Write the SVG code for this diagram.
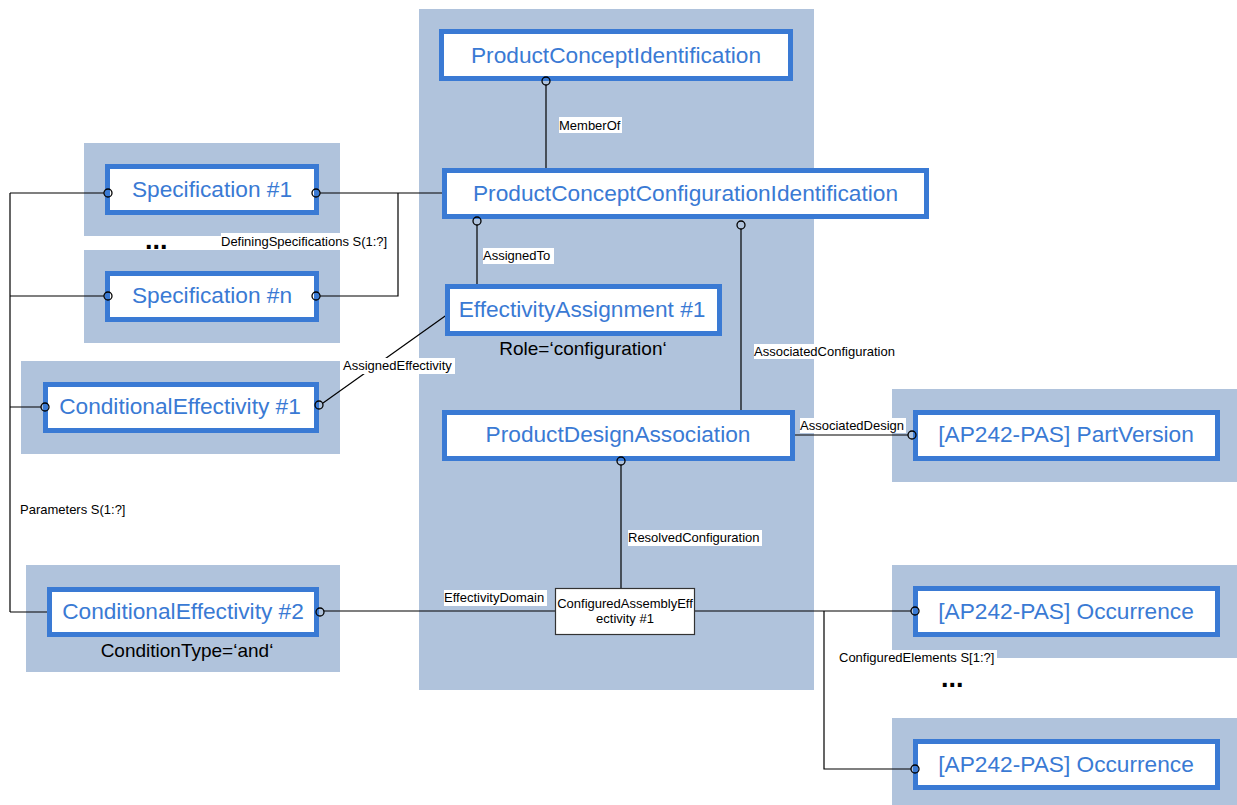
<svg xmlns="http://www.w3.org/2000/svg" width="1237" height="805" viewBox="0 0 1237 805">
<style>
.bg{fill:#b0c3dc}
.node{fill:#fff;stroke:#3a7ad4;stroke-width:5}
.nt{font-family:"Liberation Sans",Arial,sans-serif;font-size:22.7px;fill:#3a7ad4;text-anchor:middle}
.sub{font-family:"Liberation Sans",Arial,sans-serif;font-size:19px;fill:#000;text-anchor:middle}
.lbl{font-family:"Liberation Sans",Arial,sans-serif;font-size:13px;fill:#000}
.lblbg{fill:#fff}
.ln{fill:none;stroke:#000;stroke-width:1.2}
.end{fill:none;stroke:#000;stroke-width:1.3}
.dots{font-family:"Liberation Sans",Arial,sans-serif;font-size:27px;font-weight:bold;fill:#000}
.cae{fill:#fff;stroke:#333;stroke-width:1.2}
.ct{font-family:"Liberation Sans",Arial,sans-serif;font-size:13px;fill:#000;text-anchor:middle}
</style>
<g id="backgrounds">
<rect class="bg" x="419" y="9" width="395" height="681"/>
<rect class="bg" x="84" y="143" width="256" height="93"/>
<rect class="bg" x="84" y="250" width="256" height="93"/>
<rect class="bg" x="21" y="361" width="319" height="93"/>
<rect class="bg" x="26" y="565" width="314" height="107"/>
<rect class="bg" x="892" y="389" width="345" height="93"/>
<rect class="bg" x="892" y="565" width="345" height="93"/>
<rect class="bg" x="892" y="718" width="345" height="87"/>
</g>
<g id="connectors">
<path class="ln" d="M546,85 V168"/>
<path class="ln" d="M477,225 V284"/>
<path class="ln" d="M741,229 V410"/>
<path class="ln" d="M320,193 H442 M320,296 H398 V193"/>
<path class="ln" d="M10,193 V612 M10,193 H104 M10,296 H104 M10,407 H41 M10,612 H47"/>
<path class="ln" d="M323,403 L448,314"/>
<path class="ln" d="M324,611 H555"/>
<path class="ln" d="M621,465 V588"/>
<path class="ln" d="M795,435 H908"/>
<path class="ln" d="M695,611 H911 M824,611 V769 H911"/>
</g>
<g id="n-pci"><rect class="node" x="441.5" y="31.5" width="349" height="47"/><text class="nt" x="616" y="63">ProductConceptIdentification</text></g>
<g id="n-pcci"><rect class="node" x="444.5" y="170.5" width="482" height="46"/><text class="nt" x="685.5" y="201">ProductConceptConfigurationIdentification</text></g>
<g id="n-spec1"><rect class="node" x="107.5" y="166.5" width="209" height="46"/><text class="nt" x="212" y="197">Specification #1</text></g>
<g id="n-specn"><rect class="node" x="107.5" y="273.5" width="209" height="46"/><text class="nt" x="212" y="303">Specification #n</text></g>
<g id="n-ce1"><rect class="node" x="45.5" y="384.5" width="271" height="46"/><text class="nt" x="180" y="414">ConditionalEffectivity #1</text></g>
<g id="n-ce2"><rect class="node" x="49.5" y="589.5" width="267" height="45"/><text class="nt" x="183" y="619">ConditionalEffectivity #2</text><text class="sub" x="187" y="657">ConditionType=‘and‘</text></g>
<g id="n-ea1"><rect class="node" x="447.5" y="286.5" width="272" height="47"/><text class="nt" x="582" y="317">EffectivityAssignment #1</text><text class="sub" x="583" y="355">Role=‘configuration‘</text></g>
<g id="n-pda"><rect class="node" x="444.5" y="412.5" width="348" height="46"/><text class="nt" x="618" y="442">ProductDesignAssociation</text></g>
<g id="n-pv"><rect class="node" x="915.5" y="412.5" width="302" height="46"/><text class="nt" x="1066" y="442">[AP242-PAS] PartVersion</text></g>
<g id="n-occ1"><rect class="node" x="915.5" y="588.5" width="302" height="46"/><text class="nt" x="1066" y="619">[AP242-PAS] Occurrence</text></g>
<g id="n-occ2"><rect class="node" x="915.5" y="741.5" width="302" height="46"/><text class="nt" x="1066" y="772">[AP242-PAS] Occurrence</text></g>
<g id="n-cae"><rect class="cae" x="555.5" y="588.5" width="139" height="46"/><text class="ct" x="625" y="608">ConfiguredAssemblyEff</text><text class="ct" x="625" y="623">ectivity #1</text></g>
<g id="ends">
<circle class="end" cx="546" cy="81" r="4"/>
<circle class="end" cx="477" cy="221" r="4"/>
<circle class="end" cx="741" cy="225" r="4"/>
<circle class="end" cx="108" cy="193" r="4"/>
<circle class="end" cx="316" cy="193" r="4"/>
<circle class="end" cx="108" cy="296" r="4"/>
<circle class="end" cx="316" cy="296" r="4"/>
<circle class="end" cx="45" cy="407" r="4"/>
<circle class="end" cx="319" cy="405" r="4"/>
<circle class="end" cx="320" cy="612" r="4"/>
<circle class="end" cx="621" cy="461" r="4"/>
<circle class="end" cx="912" cy="435" r="4"/>
<circle class="end" cx="915" cy="611" r="4"/>
<circle class="end" cx="915" cy="769" r="4"/>
</g>
<g id="labels">
<rect class="lblbg" x="559" y="117" width="63" height="16"/><text class="lbl" x="559" y="130">MemberOf</text>
<rect class="lblbg" x="221" y="233" width="168" height="16"/><text class="lbl" x="221" y="246">DefiningSpecifications S(1:?]</text>
<rect class="lblbg" x="483" y="248" width="71" height="16"/><text class="lbl" x="483" y="260">AssignedTo</text>
<rect class="lblbg" x="754" y="344" width="143" height="15"/><text class="lbl" x="754" y="356">AssociatedConfiguration</text>
<rect class="lblbg" x="343" y="358" width="112" height="16"/><text class="lbl" x="343" y="370">AssignedEffectivity</text>
<rect class="lblbg" x="800" y="418" width="106" height="15"/><text class="lbl" x="800" y="430">AssociatedDesign</text>
<rect class="lblbg" x="628" y="530" width="134" height="16"/><text class="lbl" x="628" y="542">ResolvedConfiguration</text>
<rect class="lblbg" x="444" y="590" width="103" height="16"/><text class="lbl" x="444" y="602">EffectivityDomain</text>
<rect class="lblbg" x="839" y="650" width="158" height="16"/><text class="lbl" x="839" y="662">ConfiguredElements S[1:?]</text>
<text class="lbl" x="20" y="514">Parameters S(1:?]</text>
<text class="dots" x="145" y="249">...</text>
<text class="dots" x="941" y="687">...</text>
</g>
</svg>
